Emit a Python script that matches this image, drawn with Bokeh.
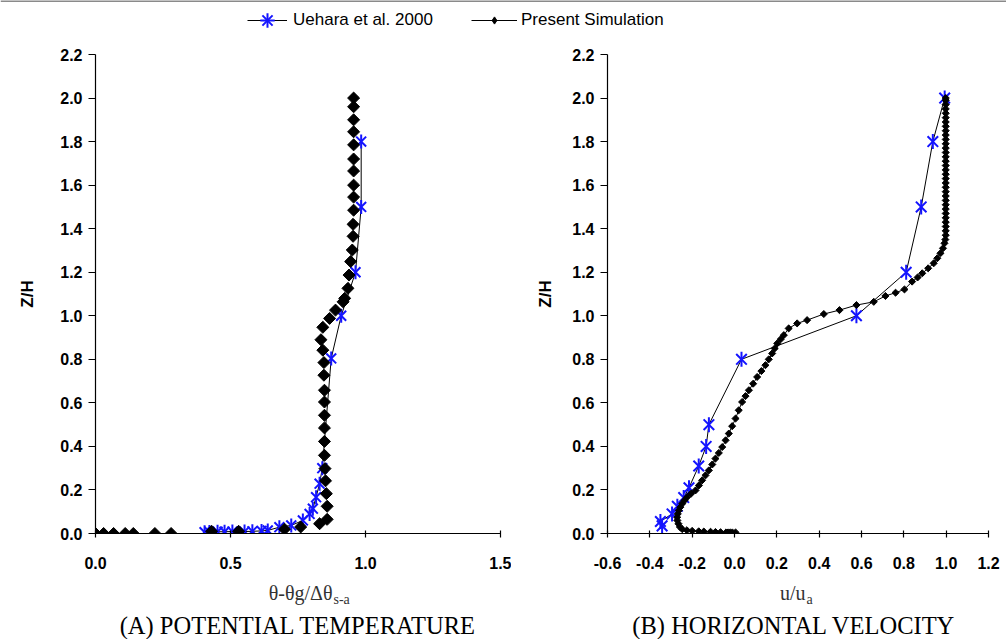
from bokeh.plotting import figure
from bokeh.models import (Range1d, FixedTicker, PrintfTickFormatter, Legend, LegendItem, Span)
from bokeh.core.properties import value
from bokeh.layouts import column, row
from bokeh.embed import file_html
from bokeh.resources import INLINE
import math

# ---------------- data ----------------
# Panel A: potential temperature
ueh_theta_A = [0.404, 0.422, 0.452, 0.478, 0.507, 0.552, 0.581, 0.615, 0.638, 0.681, 0.725,
               0.768, 0.793, 0.805, 0.817, 0.830, 0.840, 0.873, 0.910, 0.963, 0.984, 0.984]
ueh_z_A = [0.006, 0.007, 0.008, 0.008, 0.009, 0.009, 0.010, 0.012, 0.014, 0.029, 0.037,
           0.060, 0.090, 0.114, 0.167, 0.229, 0.300, 0.804, 1.000, 1.200, 1.500, 1.800]

sim_theta_A = [0.000, 0.030, 0.067, 0.110, 0.140, 0.220, 0.280, 0.430, 0.530, 0.700, 0.760,
               0.830, 0.858, 0.858, 0.855, 0.852, 0.850, 0.848, 0.848, 0.848, 0.848, 0.848,
               0.848, 0.846, 0.846, 0.842, 0.835, 0.842, 0.867, 0.889, 0.917, 0.923, 0.935,
               0.939, 0.945, 0.951, 0.954, 0.954, 0.956, 0.956, 0.956, 0.956, 0.956, 0.956,
               0.956, 0.956, 0.956, 0.956]
sim_z_A = [0.000, 0.000, 0.000, 0.000, 0.000, 0.000, 0.000, 0.010, 0.010, 0.020, 0.030,
           0.045, 0.065, 0.125, 0.183, 0.242, 0.298, 0.359, 0.423, 0.485, 0.543, 0.604,
           0.658, 0.727, 0.785, 0.842, 0.890, 0.947, 0.988, 1.026, 1.064, 1.080, 1.126,
           1.187, 1.249, 1.302, 1.365, 1.420, 1.485, 1.545, 1.600, 1.665, 1.720, 1.785,
           1.845, 1.900, 1.960, 2.000]

# Panel B: horizontal velocity
ueh_u_B = [0.993, 0.937, 0.882, 0.811, 0.576, 0.033, -0.121, -0.134, -0.169, -0.215,
           -0.240, -0.270, -0.295, -0.350, -0.342]
ueh_z_B = [2.000, 1.800, 1.500, 1.200, 1.000, 0.800, 0.500, 0.400, 0.310, 0.210,
           0.165, 0.125, 0.090, 0.055, 0.035]

sim_u_B = [0.005, -0.010, -0.020, -0.030, -0.040, -0.066, -0.090, -0.113, -0.145, -0.169,
           -0.200, -0.225, -0.247, -0.258, -0.265, -0.270, -0.271, -0.268, -0.263, -0.256,
           -0.247, -0.236, -0.224, -0.205, -0.184, -0.168, -0.153, -0.137, -0.121, -0.105,
           -0.090, -0.074, -0.058, -0.042, -0.027, -0.011, 0.005, 0.020, 0.036, 0.052,
           0.068, 0.088, 0.107, 0.127, 0.146, 0.162, 0.178, 0.190, 0.202, 0.218,
           0.233, 0.256, 0.296, 0.343, 0.422, 0.496, 0.576, 0.658, 0.713, 0.761,
           0.803, 0.839, 0.865, 0.887, 0.915, 0.941, 0.958, 0.973, 0.985, 0.992,
           0.996, 0.998, 0.998, 0.998, 0.998, 0.998, 0.998, 0.998, 0.998, 0.998,
           0.998, 0.998, 0.998, 0.998, 0.998, 0.998, 0.998, 0.998, 0.998, 0.998,
           0.998, 0.998, 0.998, 0.998, 0.998, 0.998, 0.998, 0.998, 0.998, 0.998,
           0.998, 0.998, 0.998, 0.998]
sim_z_B = [0.005, 0.005, 0.005, 0.005, 0.005, 0.006, 0.007, 0.008, 0.009, 0.010,
           0.012, 0.015, 0.020, 0.030, 0.045, 0.060, 0.075, 0.090, 0.106, 0.121,
           0.137, 0.152, 0.167, 0.183, 0.198, 0.221, 0.244, 0.267, 0.290, 0.317,
           0.344, 0.370, 0.397, 0.428, 0.459, 0.493, 0.528, 0.566, 0.604, 0.631,
           0.658, 0.688, 0.719, 0.746, 0.773, 0.800, 0.827, 0.850, 0.873, 0.892,
           0.911, 0.942, 0.965, 0.980, 1.008, 1.026, 1.049, 1.064, 1.091, 1.106,
           1.121, 1.157, 1.176, 1.195, 1.218, 1.241, 1.264, 1.287, 1.310, 1.333,
           1.350, 1.370, 1.390, 1.410, 1.430, 1.450, 1.470, 1.490, 1.510, 1.530,
           1.550, 1.570, 1.590, 1.610, 1.630, 1.650, 1.670, 1.690, 1.710, 1.730,
           1.750, 1.770, 1.790, 1.810, 1.830, 1.850, 1.870, 1.890, 1.910, 1.930,
           1.950, 1.970, 1.990, 2.000]

y_ticks = [0.0, 0.2, 0.4, 0.6, 0.8, 1.0, 1.2, 1.4, 1.6, 1.8, 2.0, 2.2]
x_ticks_A = [0.0, 0.5, 1.0, 1.5]
x_ticks_B = [-0.6, -0.4, -0.2, 0.0, 0.2, 0.4, 0.6, 0.8, 1.0, 1.2]

series_names = ["Uehara et al. 2000", "Present Simulation"]
panel_titles = ["(A) POTENTIAL TEMPERATURE", "(B) HORIZONTAL VELOCITY"]
xlabel_A = ["θ-θg/Δθ", "s-a"]
xlabel_B = ["u/u", "a"]

BLUE = "#1414ff"
SANS = "Liberation Sans"
SERIF = "Liberation Serif"


def style_axes(p, xticks):
    p.xgrid.visible = False
    p.ygrid.visible = False
    p.outline_line_color = None
    for ax in p.axis:
        ax.axis_line_color = "black"
        ax.axis_line_width = 1.2
        ax.major_tick_line_color = "black"
        ax.major_tick_line_width = 1.2
        ax.minor_tick_line_color = None
        ax.major_label_text_font = SANS
        ax.major_label_text_font_style = "bold"
        ax.major_label_text_font_size = "16px"
        ax.major_label_text_color = "black"
        ax.formatter = PrintfTickFormatter(format="%.1f")
    p.xaxis.ticker = FixedTicker(ticks=xticks)
    p.yaxis.ticker = FixedTicker(ticks=y_ticks)
    p.xaxis.major_tick_in = 3
    p.xaxis.major_tick_out = 4
    p.xaxis.major_label_standoff = 19
    p.yaxis.major_tick_in = 0
    p.yaxis.major_tick_out = 7
    p.yaxis.major_label_standoff = 6
    p.yaxis.axis_label = "Z/H"
    p.yaxis.axis_label_text_font = SANS
    p.yaxis.axis_label_text_font_style = "bold"
    p.yaxis.axis_label_text_font_size = "17px"
    p.yaxis.axis_label_text_color = "black"


def asterisk(p, xs, ys, size):
    r1 = p.scatter(xs, ys, marker="x", size=size, line_color=BLUE, line_width=2)
    r2 = p.scatter(xs, ys, marker="dash", size=size, angle=math.pi / 2,
                   line_color=BLUE, line_width=2)
    return [r1, r2]


PANEL_H = 537

# ---------------- Panel A ----------------
pA = figure(width=511, height=PANEL_H, output_backend="svg", toolbar_location=None,
            x_range=Range1d(0, 1.5), y_range=Range1d(0, 2.2),
            min_border_left=95, min_border_right=11, min_border_top=14, min_border_bottom=44)
style_axes(pA, x_ticks_A)
pA.yaxis.axis_label_standoff = 20
pA.line(ueh_theta_A, ueh_z_A, line_color="black", line_width=1)
asterisk(pA, ueh_theta_A, ueh_z_A, 14)
pA.scatter(sim_theta_A, sim_z_A, marker="square", size=8.5, angle=math.pi / 4,
           fill_color="black", line_color="black")

# ---------------- Panel B ----------------
pB = figure(width=495, height=PANEL_H, output_backend="svg", toolbar_location=None,
            x_range=Range1d(-0.6, 1.2), y_range=Range1d(0, 2.2),
            min_border_left=96, min_border_right=18, min_border_top=14, min_border_bottom=44)
style_axes(pB, x_ticks_B)
pB.yaxis.axis_label_standoff = 14
pB.line(ueh_u_B, ueh_z_B, line_color="black", line_width=1)
asterisk(pB, ueh_u_B, ueh_z_B, 15)
pB.line(sim_u_B, sim_z_B, line_color="black", line_width=1)
pB.scatter(sim_u_B, sim_z_B, marker="square", size=5, angle=math.pi / 4,
           fill_color="black", line_color="black")

# ---------------- Legend strip (top) ----------------
pL = figure(width=1006, height=40, output_backend="svg", toolbar_location=None,
            x_range=Range1d(0, 1), y_range=Range1d(0, 1),
            x_axis_type=None, y_axis_type=None,
            min_border_left=0, min_border_right=0, min_border_top=0, min_border_bottom=0)
pL.xgrid.visible = False
pL.ygrid.visible = False
pL.outline_line_color = None
pL.add_layout(Span(location=0.985, dimension="width", line_color="#8a8a8a", line_width=2))
# legend proxies (placed outside the visible range)
l1 = pL.line([-5, -4], [-5, -5], line_color="black", line_width=1)
x1 = pL.scatter([-5], [-5], marker="x", size=15, line_color=BLUE, line_width=2)
c1 = pL.scatter([-5], [-5], marker="cross", size=15, line_color=BLUE, line_width=2)
l2 = pL.line([-5, -4], [-5, -5], line_color="black", line_width=1)
s2 = pL.scatter([-5], [-5], marker="diamond", size=7, fill_color="black", line_color="black")

common = dict(orientation="horizontal", border_line_color=None, background_fill_alpha=0,
              padding=0, margin=0, label_text_font=SANS, label_text_font_size="17px",
              label_text_color="black")
leg1 = Legend(items=[LegendItem(label=series_names[0], renderers=[l1, x1, c1])],
              location=(247, 2), glyph_width=40, glyph_height=36, label_standoff=6, **common)
leg2 = Legend(items=[LegendItem(label=series_names[1], renderers=[l2, s2])],
              location=(471, 10), glyph_width=46, glyph_height=18, label_standoff=4, **common)
pL.add_layout(leg1)
pL.add_layout(leg2)

# ---------------- Caption strip (bottom) ----------------
pT = figure(width=1006, height=62, output_backend="svg", toolbar_location=None,
            x_range=Range1d(0, 1006), y_range=Range1d(0, 62),
            x_axis_type=None, y_axis_type=None,
            min_border_left=0, min_border_right=0, min_border_top=0, min_border_bottom=0)
pT.xgrid.visible = False
pT.ygrid.visible = False
pT.outline_line_color = None
GREY = "#333333"
pT.text(x=[332], y=[47], text=[xlabel_A[0]], text_align="right", text_baseline="middle",
        text_font=value(SERIF), text_font_size="20px", text_color=GREY)
pT.text(x=[333], y=[40], text=[xlabel_A[1]], text_align="left", text_baseline="middle",
        text_font=value(SERIF), text_font_size="14px", text_color=GREY)
pT.text(x=[805], y=[47], text=[xlabel_B[0]], text_align="right", text_baseline="middle",
        text_font=value(SERIF), text_font_size="20px", text_color=GREY)
pT.text(x=[806], y=[40], text=[xlabel_B[1]], text_align="left", text_baseline="middle",
        text_font=value(SERIF), text_font_size="14px", text_color=GREY)
pT.text(x=[297.5], y=[14], text=[panel_titles[0]], text_align="center",
        text_baseline="middle", text_font=value(SERIF), text_font_size="24.5px",
        text_color="black")
pT.text(x=[793.5], y=[14], text=[panel_titles[1]], text_align="center",
        text_baseline="middle", text_font=value(SERIF), text_font_size="24.5px",
        text_color="black")

layout = column(pL, row(pA, pB), pT)

open("out.html", "w").write(file_html(layout, INLINE))
